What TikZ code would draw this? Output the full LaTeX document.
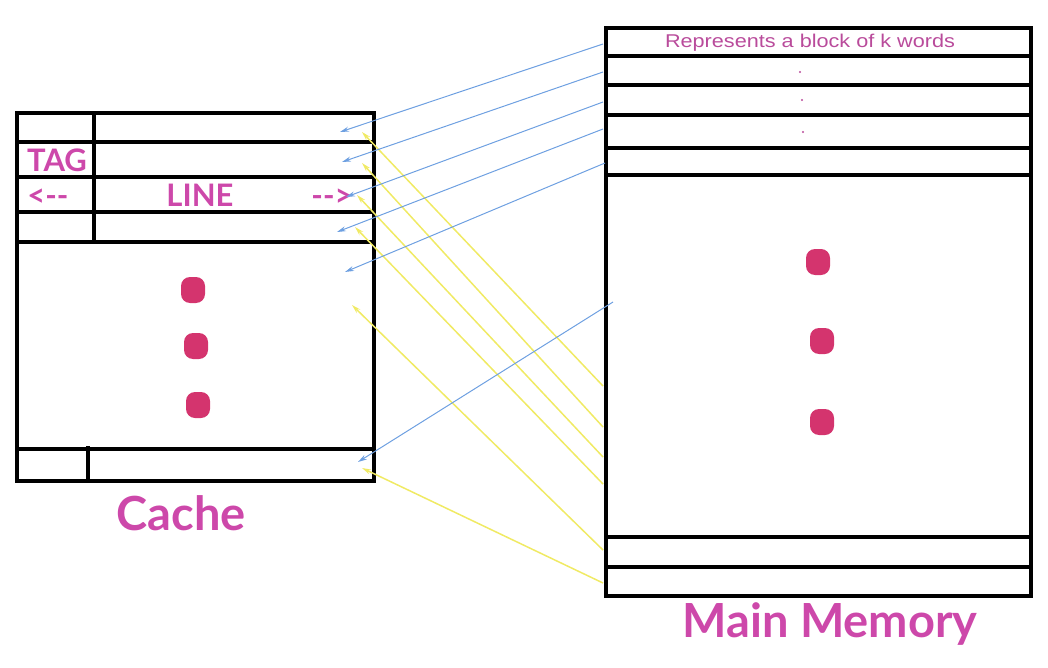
\documentclass[tikz,border=0pt]{standalone}
\usepackage{fontspec}
\setmainfont{Lato}
\newfontfamily\arialf{Liberation Sans}
\usetikzlibrary{arrows.meta}
\definecolor{mag}{RGB}{205,72,170}
\definecolor{dotc}{RGB}{212,52,110}
\definecolor{bluea}{RGB}{110,160,225}
\definecolor{yella}{RGB}{240,234,100}
\definecolor{txtm}{RGB}{185,75,155}
\tikzset{
  frame/.style={draw=black,line width=4.5pt},
  sep/.style={draw=black,line width=4.5pt},
  bigdot/.style={fill=dotc,draw=none,rounded corners=9pt,minimum width=24pt,minimum height=26pt,inner sep=0pt},
  tinydot/.style={circle,fill=txtm,draw=none,minimum size=2.4pt,inner sep=0pt},
  blueline/.style={draw=bluea,line width=1pt,-{Stealth[length=9pt,width=5pt]}},
  yellline/.style={draw=yella,line width=1.5pt,-{Stealth[length=9pt,width=5pt]}},
  celltext/.style={text=mag,font=\bfseries\fontsize{31}{31}\selectfont,anchor=base,inner sep=0pt},
  title/.style={text=mag,font=\bfseries\fontsize{47}{47}\selectfont,anchor=base,inner sep=0pt},
}
\begin{document}
\begin{tikzpicture}[x=1pt,y=-1pt]
\useasboundingbox (0,0) rectangle (1048,668);
% ---------- Cache ----------
\draw[frame] (17,113) rectangle (374,481);
\foreach \yy in {142,177,212,242,449}{\draw[sep] (17,\yy) -- (374,\yy);}
\draw[sep] (94,113) -- (94,242);
\draw[sep] (88,446) -- (88,483);
\node[celltext] (tag) at (57,172) {TAG};
\node[celltext] (larr) at (48,207) {<{-}{-}};
\node[celltext] (line) at (200,207) {LINE};
\node[celltext] (rarr) at (332,207) {{-}{-}>};
\node[bigdot] (cd1) at (193,290) {};
\node[bigdot] (cd2) at (196,346) {};
\node[bigdot] (cd3) at (198,405) {};
\node[title] (cache) at (181,530) {Cache};
% ---------- Main memory ----------
\draw[frame] (606,28) rectangle (1031,596);
\foreach \yy in {56,85,115,148,175,537,567}{\draw[sep] (606,\yy) -- (1031,\yy);}
\node[text=txtm,font=\arialf\fontsize{18.5}{18.5}\selectfont,anchor=base,inner sep=0pt,xscale=1.17] (rep) at (810,48) {Represents a block of k words};
\node[tinydot] (sd1) at (800,72) {};
\node[tinydot] (sd2) at (802,100) {};
\node[tinydot] (sd3) at (803,132) {};
\node[bigdot] (md1) at (818,262) {};
\node[bigdot] (md2) at (822,341) {};
\node[bigdot] (md3) at (822,422) {};
\node[title] (mm) at (830,637) {Main Memory};
% ---------- connector end points ----------
\coordinate (bs1) at (603,44);  \coordinate (be1) at (340,132);
\coordinate (bs2) at (603,72);  \coordinate (be2) at (342,162);
\coordinate (bs3) at (603,102); \coordinate (be3) at (346,197);
\coordinate (bs4) at (603,129); \coordinate (be4) at (337,232);
\coordinate (bs5) at (605,163); \coordinate (be5) at (345,272);
\coordinate (bs6) at (613,302); \coordinate (be6) at (358,462);
\coordinate (ys1) at (603,386); \coordinate (ye1) at (362,132);
\coordinate (ys2) at (603,427); \coordinate (ye2) at (362,163);
\coordinate (ys3) at (603,457); \coordinate (ye3) at (357,195);
\coordinate (ys4) at (603,484); \coordinate (ye4) at (355,227);
\coordinate (ys5) at (603,550); \coordinate (ye5) at (352,305);
\coordinate (ys6) at (603,583); \coordinate (ye6) at (362,468);
\foreach \i in {1,...,6}{\draw[yellline] (ys\i) -- (ye\i);}
\foreach \i in {1,...,6}{\draw[blueline] (bs\i) -- (be\i);}
\end{tikzpicture}
\end{document}
